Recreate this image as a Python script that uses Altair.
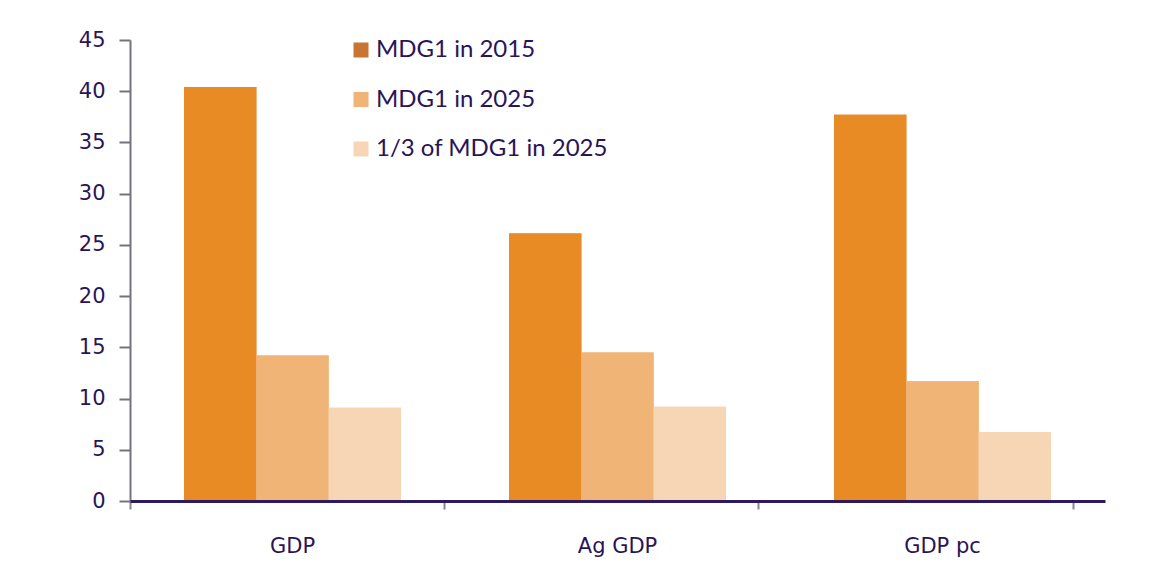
import altair as alt
import pandas as pd

categories = ["GDP", "Ag GDP", "GDP pc"]
series = ["MDG1 in 2015", "MDG1 in 2025", "1/3 of MDG1 in 2025"]
mdg_2015 = [40.4, 26.1, 37.7]
mdg_2025 = [14.2, 14.5, 11.7]
third_2025 = [9.1, 9.2, 6.7]
bar_colors = ["#e88b25", "#f0b477", "#f6d6b4"]
legend_colors = ["#c87533", "#f0b477", "#f6d6b4"]
y_ticks = [0, 5, 10, 15, 20, 25, 30, 35, 40, 45]
# category-axis tick marks (in tick-interval units)
x_tick_values = [0, 1, 2, 3]
x_tick_domain = [0, 3.103]

rows = []
for s, vals in zip(series, [mdg_2015, mdg_2025, third_2025]):
    for c, v in zip(categories, vals):
        rows.append({"category": c, "series": s, "value": v})
df = pd.DataFrame(rows)

TEXT = "#2a1458"
GRAY = "#77707f"

x_enc = alt.X(
    "category:N", sort=categories, title=None,
    scale=alt.Scale(paddingInner=0, paddingOuter=0),
    axis=alt.Axis(
        orient="bottom",
        labelAngle=0, labelFont="DejaVu Sans", labelFontSize=21, labelColor=TEXT,
        labelPadding=34, domain=False, ticks=False,
    ),
)
xoff_enc = alt.XOffset("series:N", sort=series,
                       scale=alt.Scale(paddingInner=0, paddingOuter=0.747))
y_enc = alt.Y(
    "value:Q", title=None,
    scale=alt.Scale(domain=[0, 45], nice=False),
    axis=alt.Axis(
        values=y_ticks, grid=False, labelFont="DejaVu Sans", labelFontSize=21,
        labelColor=TEXT, labelPadding=14, domainColor=GRAY, domainWidth=2,
        tickColor=GRAY, tickWidth=2, tickSize=11,
    ),
)

legend_layer = alt.Chart(df).mark_bar().encode(
    x=x_enc, xOffset=xoff_enc, y=y_enc,
    color=alt.Color(
        "series:N", sort=series,
        scale=alt.Scale(domain=series, range=legend_colors),
        legend=alt.Legend(
            title=None, orient="none", legendX=219, legendY=-2,
            symbolType="square", symbolSize=225, symbolStrokeWidth=0,
            labelFont="Lato", labelFontSize=24, labelColor=TEXT,
            labelOffset=3, rowPadding=25.5, labelLimit=400,
        ),
    ),
)

bar_layer = alt.Chart(df).mark_bar().encode(
    x=x_enc, xOffset=xoff_enc, y=y_enc,
    color=alt.Color(
        "series:N", sort=series,
        scale=alt.Scale(domain=series, range=bar_colors),
        legend=None,
    ),
)

bars = alt.layer(legend_layer, bar_layer).resolve_scale(color="independent")

tick_axis = alt.Chart(pd.DataFrame({"t": x_tick_values})).mark_point(
    opacity=0
).encode(
    x=alt.X(
        "t:Q", title=None,
        scale=alt.Scale(domain=x_tick_domain, nice=False, zero=False),
        axis=alt.Axis(
            orient="bottom", values=x_tick_values, labels=False, grid=False,
            domainColor="#2e1a5e", domainWidth=3,
            tickColor="#8a8592", tickWidth=2, tickSize=8, zindex=1,
        ),
    ),
    y=alt.value(0),
)

chart = (
    alt.layer(bars, tick_axis)
    .resolve_scale(x="independent")
    .properties(
        width=975, height=461,
        autosize=alt.AutoSizeParams(type="none"),
        padding={"left": 122, "top": 32, "right": 40, "bottom": 70},
        background="white",
    )
    .configure_view(stroke=None)
)

chart.save("out.html", embed_options={"renderer": "svg", "actions": False})
